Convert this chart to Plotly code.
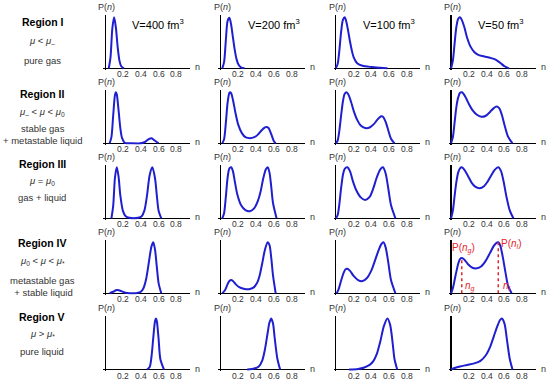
import plotly.graph_objects as go

# ---------------- data ----------------
VOLUME_LABELS = ["V=400 fm<sup>3</sup>", "V=200 fm<sup>3</sup>", "V=100 fm<sup>3</sup>", "V=50 fm<sup>3</sup>"]
REGION_TITLES = ["Region I", "Region II", "Region III", "Region IV", "Region V"]
REGION_MU = [
    "<i>μ</i> < <i>μ</i><sub>–</sub>",
    "<i>μ</i><sub>–</sub> < <i>μ</i> < <i>μ</i><sub>0</sub>",
    "<i>μ</i> = <i>μ</i><sub>0</sub>",
    "<i>μ</i><sub>0</sub> < <i>μ</i> < <i>μ</i><sub>*</sub>",
    "<i>μ</i> > <i>μ</i><sub>*</sub>",
]
REGION_DESC = ["pure gas", "stable gas<br>+ metastable liquid", "gas + liquid",
               "metastable gas<br> + stable liquid", "pure liquid"]
TICK_VALS = [0.2, 0.4, 0.6, 0.8]
TICK_TEXT = ["0.2", "0.4", "0.6", "0.8"]

# Region I
n_I1 = [0.04, 0.06, 0.08, 0.10, 0.12, 0.14, 0.16, 0.18, 0.21]
p_I1 = [0, 0.22, 0.78, 1.0, 0.8, 0.42, 0.15, 0.04, 0]
n_I2 = [0.02, 0.04, 0.06, 0.08, 0.10, 0.12, 0.14, 0.16, 0.18, 0.20, 0.23, 0.27]
p_I2 = [0, 0.12, 0.55, 0.93, 0.99, 0.85, 0.6, 0.36, 0.18, 0.08, 0.02, 0]
n_I3 = [0.0, 0.02, 0.04, 0.06, 0.08, 0.10, 0.12, 0.14, 0.16, 0.18, 0.20, 0.24, 0.30, 0.40, 0.50, 0.58]
p_I3 = [0, 0.08, 0.35, 0.72, 0.95, 1.0, 0.9, 0.72, 0.52, 0.35, 0.22, 0.1, 0.05, 0.025, 0.01, 0]
n_I4 = [0, 0.02, 0.04, 0.06, 0.08, 0.10, 0.12, 0.15, 0.18, 0.22, 0.26, 0.30, 0.35, 0.40, 0.45, 0.50, 0.55, 0.60, 0.65]
p_I4 = [0, 0.15, 0.5, 0.82, 0.97, 1.0, 0.95, 0.8, 0.6, 0.42, 0.32, 0.27, 0.24, 0.22, 0.2, 0.17, 0.11, 0.04, 0]

# Region II
n_II1 = [0.05, 0.07, 0.09, 0.11, 0.12, 0.13, 0.15, 0.17, 0.19, 0.22, 0.30, 0.40, 0.44, 0.48, 0.52, 0.56, 0.60]
p_II1 = [0, 0.12, 0.55, 0.95, 1.0, 0.96, 0.65, 0.3, 0.1, 0.01, 0, 0, 0.02, 0.07, 0.1, 0.05, 0]
n_II2 = [0.02, 0.04, 0.06, 0.08, 0.10, 0.11, 0.12, 0.14, 0.17, 0.20, 0.24, 0.28, 0.33, 0.38, 0.42, 0.46, 0.50, 0.52, 0.54, 0.57, 0.60, 0.62]
p_II2 = [0, 0.08, 0.4, 0.8, 0.99, 1.0, 0.98, 0.85, 0.58, 0.36, 0.2, 0.12, 0.1, 0.12, 0.17, 0.25, 0.31, 0.32, 0.3, 0.18, 0.04, 0]
n_II3 = [0.0, 0.02, 0.04, 0.06, 0.08, 0.10, 0.12, 0.14, 0.17, 0.20, 0.24, 0.28, 0.33, 0.38, 0.43, 0.47, 0.51, 0.53, 0.56, 0.59, 0.62, 0.66]
p_II3 = [0, 0.05, 0.25, 0.55, 0.82, 0.97, 1.0, 0.96, 0.82, 0.64, 0.46, 0.35, 0.3, 0.31, 0.38, 0.47, 0.53, 0.52, 0.42, 0.25, 0.09, 0]
n_II4 = [0, 0.02, 0.04, 0.06, 0.08, 0.10, 0.12, 0.14, 0.17, 0.20, 0.24, 0.29, 0.34, 0.39, 0.44, 0.48, 0.51, 0.54, 0.57, 0.60, 0.64, 0.69]
p_II4 = [0, 0.12, 0.42, 0.72, 0.9, 0.99, 1.0, 0.97, 0.88, 0.77, 0.65, 0.56, 0.52, 0.54, 0.62, 0.69, 0.72, 0.69, 0.56, 0.36, 0.13, 0]

# Region III
n_III1 = [0.07, 0.09, 0.11, 0.13, 0.15, 0.17, 0.20, 0.23, 0.27, 0.32, 0.37, 0.41, 0.44, 0.47, 0.50, 0.53, 0.56, 0.58, 0.60, 0.63]
p_III1 = [0, 0.25, 0.8, 1.0, 0.82, 0.45, 0.14, 0.04, 0.01, 0.0, 0.01, 0.04, 0.15, 0.45, 0.85, 1.0, 0.78, 0.45, 0.15, 0]
n_III2 = [0.02, 0.04, 0.06, 0.08, 0.10, 0.12, 0.14, 0.16, 0.19, 0.23, 0.28, 0.33, 0.38, 0.42, 0.45, 0.48, 0.51, 0.53, 0.55, 0.57, 0.59, 0.63]
p_III2 = [0, 0.1, 0.42, 0.8, 0.98, 1.0, 0.92, 0.73, 0.46, 0.26, 0.16, 0.14, 0.2, 0.34, 0.52, 0.78, 0.96, 1.0, 0.9, 0.62, 0.3, 0]
n_III3 = [0.0, 0.02, 0.04, 0.06, 0.08, 0.10, 0.13, 0.16, 0.19, 0.23, 0.28, 0.33, 0.38, 0.42, 0.46, 0.50, 0.53, 0.56, 0.59, 0.62, 0.67]
p_III3 = [0, 0.06, 0.28, 0.6, 0.85, 0.97, 1.0, 0.92, 0.74, 0.55, 0.41, 0.36, 0.42, 0.58, 0.8, 0.96, 1.0, 0.88, 0.58, 0.26, 0]
n_III4 = [0, 0.02, 0.04, 0.06, 0.08, 0.10, 0.12, 0.15, 0.19, 0.23, 0.27, 0.32, 0.37, 0.41, 0.45, 0.49, 0.53, 0.56, 0.59, 0.62, 0.66, 0.70]
p_III4 = [0, 0.15, 0.45, 0.72, 0.9, 0.98, 1.0, 0.95, 0.83, 0.7, 0.62, 0.59, 0.63, 0.72, 0.84, 0.95, 1.0, 0.93, 0.72, 0.44, 0.15, 0]

# Region IV
n_IV1 = [0.05, 0.09, 0.12, 0.14, 0.17, 0.21, 0.25, 0.30, 0.36, 0.40, 0.43, 0.46, 0.49, 0.52, 0.54, 0.56, 0.58, 0.60, 0.63]
p_IV1 = [0, 0.03, 0.06, 0.065, 0.05, 0.02, 0.005, 0, 0.005, 0.03, 0.1, 0.28, 0.6, 0.92, 1.0, 0.85, 0.52, 0.2, 0]
n_IV2 = [0.02, 0.05, 0.08, 0.10, 0.12, 0.14, 0.17, 0.21, 0.26, 0.32, 0.37, 0.41, 0.44, 0.47, 0.50, 0.53, 0.55, 0.57, 0.59, 0.62]
p_IV2 = [0, 0.06, 0.18, 0.24, 0.26, 0.24, 0.18, 0.12, 0.09, 0.08, 0.11, 0.2, 0.35, 0.6, 0.86, 1.0, 0.95, 0.7, 0.35, 0]
n_IV3 = [0.01, 0.03, 0.06, 0.09, 0.11, 0.13, 0.16, 0.20, 0.25, 0.30, 0.35, 0.40, 0.44, 0.48, 0.51, 0.535, 0.56, 0.59, 0.62, 0.67]
p_IV3 = [0, 0.07, 0.25, 0.41, 0.47, 0.48, 0.44, 0.34, 0.26, 0.24, 0.3, 0.45, 0.64, 0.84, 0.96, 1.0, 0.9, 0.6, 0.26, 0]
n_IV4 = [0, 0.02, 0.05, 0.08, 0.10, 0.12, 0.15, 0.19, 0.24, 0.29, 0.34, 0.39, 0.44, 0.48, 0.51, 0.53, 0.55, 0.58, 0.61, 0.64, 0.68]
p_IV4 = [0, 0.1, 0.35, 0.58, 0.67, 0.69, 0.66, 0.57, 0.5, 0.49, 0.53, 0.64, 0.8, 0.93, 0.99, 1.0, 0.95, 0.72, 0.42, 0.15, 0]

# Region V
n_V1 = [0.47, 0.50, 0.52, 0.54, 0.56, 0.57, 0.58, 0.60, 0.62, 0.66]
p_V1 = [0, 0.05, 0.25, 0.62, 0.95, 1.0, 0.95, 0.6, 0.2, 0]
n_V2 = [0.30, 0.38, 0.43, 0.47, 0.50, 0.53, 0.55, 0.57, 0.59, 0.61, 0.64, 0.67]
p_V2 = [0, 0.02, 0.06, 0.18, 0.4, 0.72, 0.92, 1.0, 0.9, 0.6, 0.2, 0]
n_V3 = [0.15, 0.25, 0.32, 0.38, 0.42, 0.46, 0.50, 0.54, 0.58, 0.61, 0.64, 0.66, 0.69]
p_V3 = [0, 0.01, 0.04, 0.09, 0.16, 0.3, 0.55, 0.85, 1.0, 0.88, 0.5, 0.2, 0]
n_V4 = [0, 0.04, 0.10, 0.18, 0.26, 0.33, 0.39, 0.44, 0.48, 0.52, 0.55, 0.57, 0.60, 0.63, 0.66, 0.69]
p_V4 = [0, 0.03, 0.06, 0.09, 0.12, 0.17, 0.28, 0.45, 0.65, 0.85, 0.97, 1.0, 0.9, 0.55, 0.2, 0]

# marked gas / liquid peaks (Region IV, V=50 fm^3)
NG, PG = 0.12, 0.69
NL, PL = 0.53, 1.0

CURVES = [
    [(n_I1, p_I1), (n_I2, p_I2), (n_I3, p_I3), (n_I4, p_I4)],
    [(n_II1, p_II1), (n_II2, p_II2), (n_II3, p_II3), (n_II4, p_II4)],
    [(n_III1, p_III1), (n_III2, p_III2), (n_III3, p_III3), (n_III4, p_III4)],
    [(n_IV1, p_IV1), (n_IV2, p_IV2), (n_IV3, p_IV3), (n_IV4, p_IV4)],
    [(n_V1, p_V1), (n_V2, p_V2), (n_V3, p_V3), (n_V4, p_V4)],
]

# ---------------- layout ----------------
W, H = 550, 385
AX_X = [105.2, 220.5, 335.8, 451.1]       # pixel x of n=0
BASE_Y = [68.3, 143.3, 218.3, 293.3, 369.5]  # pixel y of P=0
PX_N = 89.0
PX_P = 51.0
XR = [-0.025, 0.95]
YR = [-0.03, 1.045]
BLUE = "#1f1fd0"
RED = "#e3262c"
TXT = "#333333"
FONT = "Liberation Sans, Arial, sans-serif"

fig = go.Figure()
layout = dict(width=W, height=H, margin=dict(l=0, r=0, t=0, b=0, pad=0),
              paper_bgcolor="white", plot_bgcolor="white", showlegend=False,
              font=dict(family=FONT, color=TXT))
annotations = []

for r in range(5):
    for c in range(4):
        i = r * 4 + c + 1
        xs = "" if i == 1 else str(i)
        x0 = (AX_X[c] + XR[0] * PX_N) / W
        x1 = (AX_X[c] + XR[1] * PX_N) / W
        ytop = BASE_Y[r] - YR[1] * PX_P
        ybot = BASE_Y[r] - YR[0] * PX_P
        layout["xaxis" + xs] = dict(domain=[x0, x1], range=XR, anchor="y" + xs,
                                    showgrid=False, zeroline=True, zerolinecolor="black",
                                    zerolinewidth=1.3, showline=False, showticklabels=False,
                                    ticks="", layer="below traces", fixedrange=True)
        layout["yaxis" + xs] = dict(domain=[1 - ybot / H, 1 - ytop / H], range=YR, anchor="x" + xs,
                                    showgrid=False, zeroline=True, zerolinecolor="black",
                                    zerolinewidth=1.3, showline=False, showticklabels=False,
                                    ticks="", layer="below traces", fixedrange=True)
        n, p = CURVES[r][c]
        fig.add_trace(go.Scatter(x=n, y=p, mode="lines", xaxis="x" + xs, yaxis="y" + xs,
                                 line=dict(color=BLUE, width=2, shape="spline", smoothing=0.8),
                                 hoverinfo="skip"))
        # tick labels
        for tv, tt in zip(TICK_VALS, TICK_TEXT):
            annotations.append(dict(text=tt, xref="x" + xs, yref="y" + xs, x=tv, y=0,
                                    xanchor="center", yanchor="top", yshift=0, showarrow=False,
                                    borderpad=0, font=dict(size=8.5, color=TXT)))
        # axis labels
        annotations.append(dict(text="P(<i>n</i>)", xref="paper", yref="paper",
                                x=(AX_X[c] - 8) / W, y=1 - (ytop - 8) / H, xanchor="left",
                                yanchor="middle", showarrow=False, borderpad=0,
                                font=dict(size=9, color=TXT)))
        annotations.append(dict(text="n", xref="paper", yref="paper",
                                x=(AX_X[c] + 92) / W, y=1 - (BASE_Y[r] - 1) / H, xanchor="center",
                                yanchor="middle", showarrow=False, font=dict(size=9, color=TXT)))
        if r == 0:
            annotations.append(dict(text=VOLUME_LABELS[c], xref="paper", yref="paper",
                                    x=(AX_X[c] + 25) / W, y=1 - 24 / H, xanchor="left",
                                    yanchor="middle", showarrow=False, font=dict(size=11, color="black")))

# red markers for gas / liquid peaks in Region IV, V=50
ax_iv4 = str(3 * 4 + 3 + 1)
for nv, pv in [(NG, PG), (NL, PL)]:
    fig.add_trace(go.Scatter(x=[nv, nv], y=[0, pv], mode="lines", xaxis="x" + ax_iv4, yaxis="y" + ax_iv4,
                             line=dict(color=RED, width=1.5, dash="dot"), hoverinfo="skip"))
annotations += [
    dict(text="P(<i>n</i><sub><i>g</i></sub>)", xref="x" + ax_iv4, yref="y" + ax_iv4, x=NG, y=PG,
         xanchor="center", yanchor="bottom", xshift=2, yshift=1, showarrow=False,
         font=dict(size=10, color=RED)),
    dict(text="P(<i>n</i><sub><i>l</i></sub>)", xref="x" + ax_iv4, yref="y" + ax_iv4, x=NL, y=PL,
         xanchor="left", yanchor="middle", xshift=1, yshift=-2, showarrow=False,
         font=dict(size=10, color=RED)),
    dict(text="<i>n</i><sub><i>g</i></sub>", xref="x" + ax_iv4, yref="y" + ax_iv4, x=NG, y=0.14,
         xanchor="left", yanchor="middle", xshift=1, showarrow=False, font=dict(size=10, color=RED)),
    dict(text="<i>n</i><sub><i>l</i></sub>", xref="x" + ax_iv4, yref="y" + ax_iv4, x=NL, y=0.14,
         xanchor="left", yanchor="middle", xshift=3, showarrow=False, font=dict(size=10, color=RED)),
]

# left column text
TITLE_Y = [22, 94, 164, 243, 317]
MU_Y = [41, 112, 181, 261, 334]
DESC_Y = [60, 134, 198, 286, 351]
for r in range(5):
    annotations.append(dict(text="<b>" + REGION_TITLES[r] + "</b>", xref="paper", yref="paper",
                            x=42 / W, y=1 - TITLE_Y[r] / H, xanchor="center", yanchor="middle",
                            showarrow=False, font=dict(size=10.5, color="black")))
    annotations.append(dict(text=REGION_MU[r], xref="paper", yref="paper",
                            x=42 / W, y=1 - MU_Y[r] / H, xanchor="center", yanchor="middle",
                            showarrow=False, font=dict(size=9.5, color=TXT)))
    annotations.append(dict(text=REGION_DESC[r], xref="paper", yref="paper",
                            x=42 / W, y=1 - DESC_Y[r] / H, xanchor="center", yanchor="middle",
                            showarrow=False, font=dict(size=9.5, color=TXT)))

layout["annotations"] = annotations
fig.update_layout(**layout)
fig.write_html("out.html", config={"displayModeBar": False, "staticPlot": True})

# remove the browser's default page margin so the figure sits at the window's corner
with open("out.html", encoding="utf-8") as f:
    html = f.read()
html = html.replace("<head>", "<head><style>html,body{margin:0;padding:0;overflow:hidden;}</style>", 1)
with open("out.html", "w", encoding="utf-8") as f:
    f.write(html)
